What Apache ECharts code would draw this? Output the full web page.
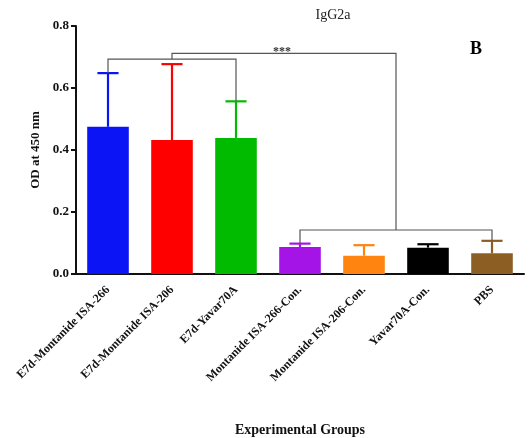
<!DOCTYPE html>
<html>
<head>
<meta charset="utf-8">
<script src="https://cdn.jsdelivr.net/npm/echarts@6/dist/echarts.min.js"></script>
<style>html,body{margin:0;padding:0;background:#fff}#c{width:531px;height:438px}</style>
</head>
<body>
<div id="c"></div>
<script>
const categories = ['E7d-Montanide ISA-266','E7d-Montanide ISA-206','E7d-Yavar70A','Montanide ISA-266-Con.','Montanide ISA-206-Con.','Yavar70A-Con.','PBS'];
const means = [0.475, 0.432, 0.439, 0.087, 0.059, 0.085, 0.067];
const upper = [0.648, 0.677, 0.557, 0.098, 0.093, 0.096, 0.107];
const colors = ['#0a14f5','#ff0000','#00bb00','#a514e6','#ff8410','#000000','#8c5e24'];
const yTicks = [0, 0.2, 0.4, 0.6, 0.8];
// brackets: left span [a,b], right span [c,d], top y, left leg end y, right leg end y
const brackets = [
  {left:[0,0], right:[2,2], top:0.693, leftEnd:0.648, rightEnd:0.557, label:''},
  {left:[3,3], right:[6,6], top:0.142, leftEnd:0.098, rightEnd:0.107, label:''},
  {left:[0,2], right:[3,6], top:0.712, leftEnd:0.693, rightEnd:0.142, label:'***'}
];
const serif = "'Liberation Serif','Times New Roman',serif";
const chart = echarts.init(document.getElementById('c'));
chart.setOption({
  animation:false,
  graphic:[
    {type:'text',x:333,y:15,style:{text:'IgG2a',align:'center',verticalAlign:'middle',font:'normal 14px '+serif,fill:'#222'}},
    {type:'text',x:476,y:49,style:{text:'B',align:'center',verticalAlign:'middle',font:'bold 18px '+serif,fill:'#000'}}
  ],
  grid:{left:76,right:7,top:26,bottom:164,containLabel:false,outerBoundsMode:'none'},
  xAxis:{type:'category',data:categories,
    name:'Experimental Groups',nameLocation:'middle',nameGap:149,
    nameTextStyle:{fontFamily:serif,fontSize:14,fontWeight:'bold',color:'#111'},
    axisLine:{lineStyle:{color:'#111',width:2}},
    axisTick:{alignWithLabel:true,length:5,lineStyle:{color:'#111',width:2}},
    axisLabel:{rotate:45,interval:0,margin:14,fontFamily:serif,fontSize:12,fontWeight:'bold',color:'#111'}},
  yAxis:{type:'value',min:0,max:0.8,interval:0.2,
    name:'OD at 450 nm',nameLocation:'middle',nameGap:34,
    nameTextStyle:{fontFamily:serif,fontSize:13,fontWeight:'bold',color:'#111'},
    axisLine:{show:true,lineStyle:{color:'#111',width:2}},
    axisTick:{show:true,length:5,lineStyle:{color:'#111',width:2}},
    splitLine:{show:false},
    axisLabel:{margin:7,fontFamily:serif,fontSize:13,fontWeight:'bold',color:'#111',
      formatter:v=>yTicks.includes(+v.toFixed(1))?v.toFixed(1):''}},
  series:[
    {type:'bar',barWidth:'65%',data:means.map((v,i)=>({value:v,itemStyle:{color:colors[i]}})),z:3},
    {type:'custom',z:2,clip:false,data:means.map((v,i)=>[i,v,upper[i]]),
      renderItem:(params,api)=>{
        const i=api.value(0);
        const p0=api.coord([i,api.value(1)]), p1=api.coord([i,api.value(2)]);
        const hw=api.size([1,0])[0]*0.165;
        const st={stroke:colors[i],lineWidth:2.2};
        return {type:'group',children:[
          {type:'line',shape:{x1:p0[0],y1:p0[1],x2:p1[0],y2:p1[1]},style:st},
          {type:'line',shape:{x1:p1[0]-hw,y1:p1[1],x2:p1[0]+hw,y2:p1[1]},style:st}
        ]};
      }},
    {type:'custom',z:4,clip:false,data:brackets.map((b,k)=>[k]),
      renderItem:(params,api)=>{
        const b=brackets[params.dataIndex];
        const xl=(api.coord([b.left[0],0])[0]+api.coord([b.left[1],0])[0])/2;
        const xr=(api.coord([b.right[0],0])[0]+api.coord([b.right[1],0])[0])/2;
        const yt=api.coord([0,b.top])[1], yl=api.coord([0,b.leftEnd])[1], yr=api.coord([0,b.rightEnd])[1];
        const st={stroke:'#555',lineWidth:1.2,fill:null};
        const ch=[{type:'polyline',shape:{points:[[xl,yl],[xl,yt],[xr,yt],[xr,yr]]},style:st}];
        if(b.label) ch.push({type:'text',x:(xl+xr)/2-2,y:yt+5,style:{text:b.label,font:'bold 12px '+serif,fill:'#333',align:'center',verticalAlign:'bottom'}});
        return {type:'group',children:ch};
      }}
  ]
});
</script>
</body>
</html>
